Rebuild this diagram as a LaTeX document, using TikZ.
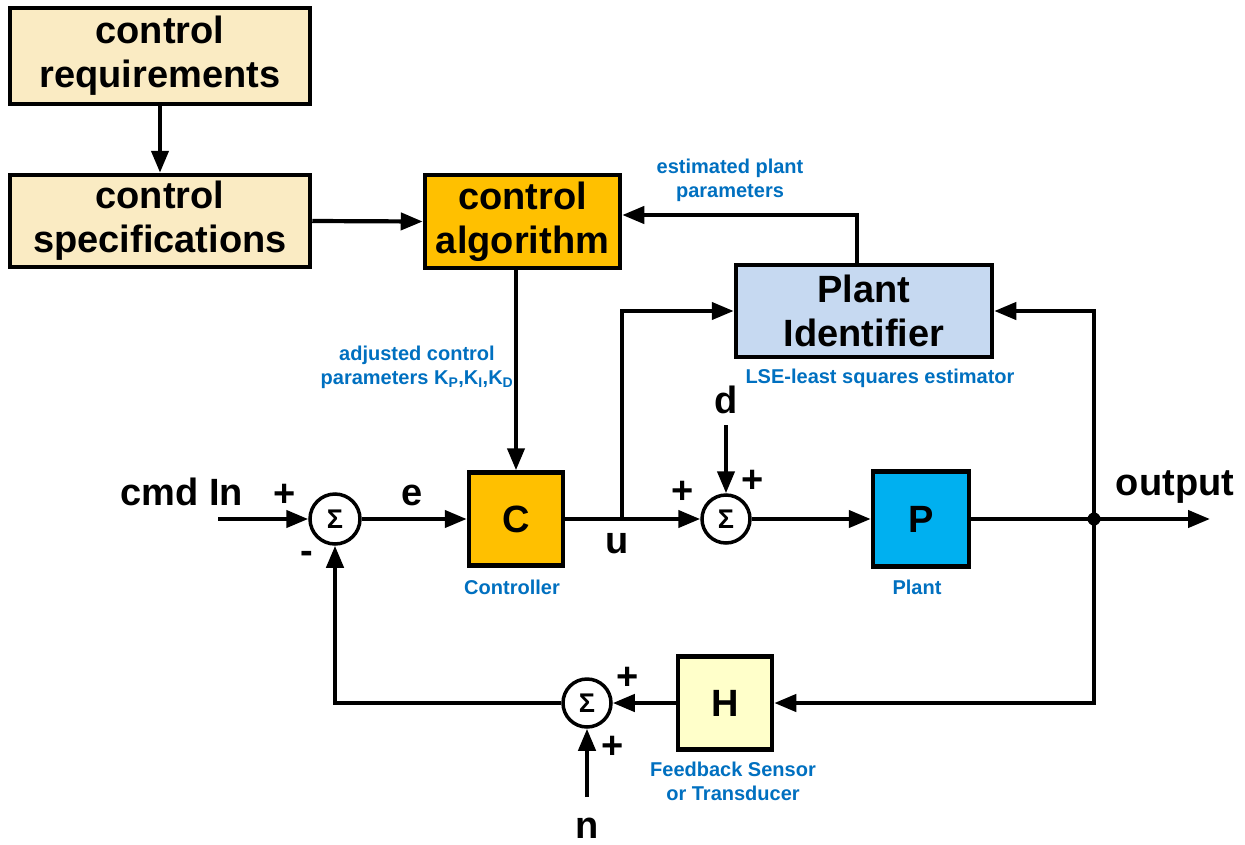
\documentclass[tikz,border=0pt]{standalone}
\usepackage{fontspec}
\setmainfont{Liberation Sans}
\usetikzlibrary{arrows.meta,calc}
\definecolor{cTan}{HTML}{FAEBC3}
\definecolor{cOrange}{HTML}{FFC000}
\definecolor{cLightBlue}{HTML}{C6D9F1}
\definecolor{cPlant}{HTML}{00B0F0}
\definecolor{cSensor}{HTML}{FFFFCA}
\definecolor{cBlue}{HTML}{0070C0}
\begin{document}
\begin{tikzpicture}[x=1pt,y=-1pt,
  blk/.style={draw,line width=4.5pt,inner sep=0pt,align=center,font=\bfseries\fontsize{38}{44}\selectfont},
  sumnode/.style={circle,draw,line width=3.5pt,fill=white,inner sep=0pt,font=\bfseries\fontsize{27}{27}\selectfont},
  wire/.style={line width=4.2pt},
  arr/.style={wire,-{Triangle[length=22pt,width=17pt]}},
  lbl/.style={font=\bfseries\fontsize{38}{44}\selectfont,inner sep=0pt},
  blbl/.style={font=\bfseries\fontsize{20}{24}\selectfont,text=cBlue,align=center,inner sep=0pt},
]
\useasboundingbox[fill=white] (0,0) rectangle (1245,844);

% blocks
\node[blk,fill=cTan,minimum width=300pt,minimum height=96pt] (req) at (160,56) {control\\requirements};
\node[blk,fill=cTan,minimum width=300pt,minimum height=92pt] (spec) at (160,221) {control\\specifications};
\node[blk,fill=cOrange,minimum width=195pt,minimum height=93pt] (alg) at (522.5,221.5) {control\\algorithm};
\node[blk,fill=cLightBlue,minimum width=256pt,minimum height=92pt] (pid) at (864,311) {Plant\\Identifier};
\node[blk,fill=cOrange,minimum width=94pt,minimum height=93pt] (C) at (516,519) {C};
\node[blk,fill=cPlant,minimum width=96pt,minimum height=95pt] (P) at (921,519) {P};
\node[blk,fill=cSensor,minimum width=94pt,minimum height=93pt] (H) at (725,703) {H};

% summing junctions
\node[sumnode,minimum size=50pt] (s1) at (335,519) {Σ};
\node[sumnode,minimum size=48pt] (s2) at (726,519) {Σ};
\node[sumnode,minimum size=48pt] (s3) at (587,703) {Σ};

% coordinates
\coordinate (cin) at (218,519);
\coordinate (br) at (622,519);
\coordinate (jn) at (1094,519);
\coordinate (out) at (1210,519);
\coordinate (dd) at (726,425);
\coordinate (nn) at (587,797);
\coordinate (est) at (857,215);

% connectors
\draw[arr] (req) -- (spec);
\draw[arr] (spec.east) -- (alg.west);
\draw[arr] (C.north |- alg.south) -- (C.north);
\draw[arr] (est |- pid.north) -- (est) -- (est -| alg.east);
\draw[arr] (cin) -- (s1.west);
\draw[arr] (s1.east) -- (C.west);
\draw[arr] (C.east) -- (s2.west);
\draw[arr] (br) |- (pid.west);
\draw[arr] (dd) -- (s2.north);
\draw[arr] (s2.east) -- (P.west);
\draw[wire] (P.east) -- (jn);
\draw[arr] (jn) -- (out);
\draw[arr] (jn) |- (pid.east);
\draw[arr] (jn) |- (H.east);
\draw[arr] (H.west) -- (s3.east);
\draw[arr] (nn) -- (s3.south);
\draw[arr] (s3.west) -| (s1.south);
\fill (jn) circle (6.5pt);

% labels
\node[lbl,anchor=base] (lcmd) at (182,505) {cmd In};
\node[lbl] (lp1) at (285,495) {+};
\node[lbl] (lm1) at (307,557) {-};
\node[lbl,anchor=base] (le) at (412,505) {e};
\node[lbl,anchor=base] (lu) at (617,553) {u};
\node[lbl] (lp2) at (683,492) {+};
\node[lbl] (lp3) at (753,481) {+};
\node[lbl,anchor=base] (ld) at (726,413) {d};
\node[lbl,anchor=base] (lout) at (1175,495) {output};
\node[lbl] (lp4) at (628,678) {+};
\node[lbl] (lp5) at (613,747) {+};
\node[lbl,anchor=base] (ln) at (587,838) {n};

\node[blbl] (lctrl) at (512,587) {Controller};
\node[blbl] (lplant) at (917,587) {Plant};
\node[blbl] (llse) at (880,378) {LSE-least squares estimator};
\node[blbl] (lest) at (730,180.5) {estimated plant\\parameters};
\node[blbl] (ladj) at (417,367) {adjusted control\\parameters K\textsubscript{P},K\textsubscript{I},K\textsubscript{D}};
\node[blbl] (lfb) at (733,781.5) {Feedback Sensor\\or Transducer};
\end{tikzpicture}
\end{document}
